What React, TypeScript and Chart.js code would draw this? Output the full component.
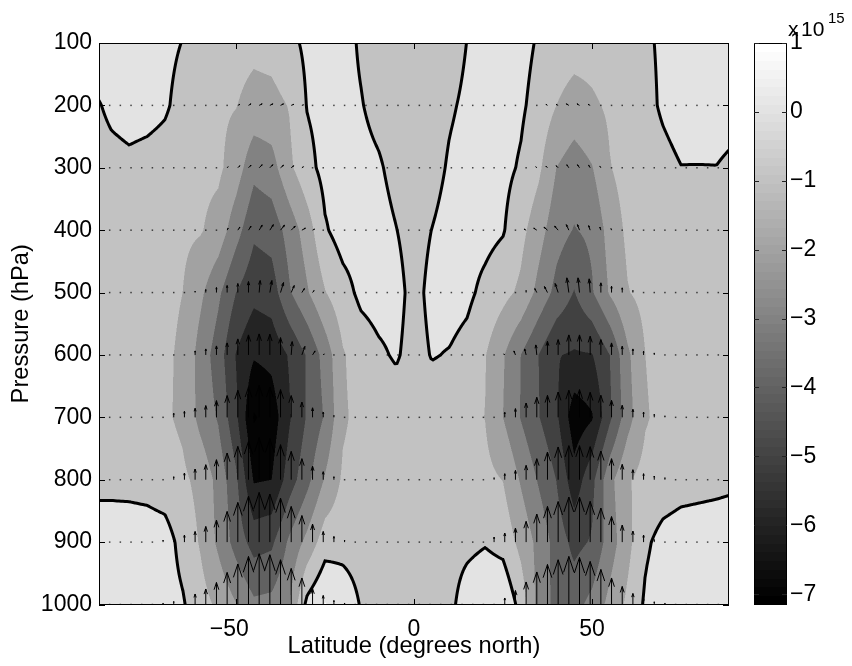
import React, { useEffect, useRef } from 'react';
import { Chart, registerables } from 'chart.js';

Chart.register(...registerables);

// ---------- field grid (units of 1e15) ----------
const LATS = [-88.5, -85, -80, -75, -70, -65, -60, -55, -50, -45, -40, -35, -30, -25, -20, -15, -10, -5, 0, 5, 10, 15, 20, 25, 30, 35, 40, 45, 50, 55, 60, 65, 70, 75, 80, 85, 88.5];
const LEVELS = [100, 200, 300, 400, 500, 600, 700, 800, 900, 1000];

const F100 = [0.6, 0.6, 0.5, 0.4, 0.2, -0.02, -0.3, -0.5, -0.65, -0.75, -0.65, -0.25, 0.2, 0.4, 0.3, -0.1, -0.4, -0.5, -0.55, -0.5, -0.35, 0.02, 0.3, 0.4, 0.3, -0.1, -0.45, -0.6, -0.62, -0.5, -0.35, -0.1, 0.1, 0.3, 0.5, 0.6, 0.6];
const F200 = [-0.05, 0.2, 0.35, 0.3, 0.12, -0.3, -0.6, -0.85, -0.97, -1.35, -1.3, -0.95, 0.05, 0.3, 0.25, 0.05, -0.25, -0.4, -0.45, -0.4, -0.1, 0.15, 0.3, 0.3, 0.15, -0.35, -1.0, -1.4, -1.15, -0.85, -0.55, -0.2, 0.1, 0.3, 0.35, 0.35, 0.3];
const F300 = [-0.4, -0.3, -0.2, -0.3, -0.4, -0.55, -0.75, -0.8, -1.5, -2.7, -2.4, -1.2, -0.3, 0.3, 0.3, 0.25, 0.1, -0.25, -0.4, -0.3, 0.1, 0.3, 0.3, 0.25, -0.1, -0.8, -2.0, -2.5, -2.05, -1.05, -0.6, -0.35, -0.2, -0.015, -0.02, -0.015, -0.12];
const F400 = [-0.5, -0.5, -0.5, -0.55, -0.65, -0.8, -0.92, -1.4, -2.6, -3.8, -3.6, -2.6, -1.5, -0.1, 0.4, 0.4, 0.3, 0.02, -0.35, 0.01, 0.3, 0.35, 0.3, 0.08, -0.7, -1.6, -2.6, -3.05, -2.8, -1.6, -0.8, -0.6, -0.45, -0.4, -0.35, -0.35, -0.35];
const F500 = [-0.5, -0.5, -0.55, -0.65, -0.8, -1.0, -1.8, -2.8, -4.0, -4.7, -4.5, -3.1, -2.1, -1.05, -0.35, 0.2, 0.35, 0.3, -0.3, 0.25, 0.35, 0.2, -0.25, -0.7, -1.2, -2.3, -3.3, -4.05, -3.1, -1.9, -1.05, -0.7, -0.55, -0.5, -0.45, -0.45, -0.45];
const F600 = [-0.55, -0.55, -0.6, -0.7, -0.85, -1.15, -2.4, -3.5, -5.05, -5.9, -5.7, -4.9, -3.9, -2.6, -1.1, -0.5, -0.15, 0.1, -0.35, 0.05, -0.05, -0.3, -0.95, -1.9, -3.0, -4.0, -4.95, -5.1, -5.05, -4.0, -2.2, -1.0, -0.6, -0.5, -0.45, -0.45, -0.45];
const F700 = [-0.6, -0.6, -0.65, -0.75, -0.85, -1.2, -2.3, -3.1, -4.8, -7.1, -6.6, -5.1, -3.9, -2.9, -1.15, -0.7, -0.55, -0.5, -0.5, -0.5, -0.55, -0.7, -1.02, -2.0, -3.05, -3.95, -4.8, -6.6, -6.1, -4.2, -2.4, -1.1, -0.7, -0.55, -0.5, -0.5, -0.5];
const F800 = [-0.3, -0.3, -0.3, -0.35, -0.5, -0.8, -1.3, -2.3, -3.8, -6.1, -6.0, -4.5, -3.3, -1.9, -0.85, -0.6, -0.55, -0.5, -0.5, -0.5, -0.55, -0.6, -0.75, -1.02, -2.1, -3.1, -4.02, -5.6, -4.3, -2.3, -1.1, -0.65, -0.5, -0.35, -0.3, -0.25, -0.2];
const F900 = [0.6, 0.6, 0.55, 0.5, 0.4, -0.3, -1.1, -2.2, -3.4, -4.4, -4.2, -2.8, -1.7, -0.45, -0.35, -0.4, -0.45, -0.5, -0.5, -0.45, -0.35, -0.25, -0.08, -0.35, -1.3, -2.3, -3.4, -4.3, -3.9, -2.5, -1.3, -0.15, 0.3, 0.45, 0.5, 0.55, 0.6];
const F1000 = [0.5, 0.5, 0.5, 0.45, 0.35, 0.1, -0.6, -1.2, -1.95, -2.8, -2.7, -2.05, 0.3, 1.05, 0.6, -0.05, -0.35, -0.5, -0.55, -0.5, -0.25, 0.5, 0.85, 0.9, -0.35, -2.4, -3.3, -3.35, -2.7, -1.7, -0.8, 0.15, 0.5, 0.5, 0.5, 0.5, 0.5];
const FIELD = [F100, F200, F300, F400, F500, F600, F700, F800, F900, F1000];

// ---------- quiver (arrow components) ----------
const Q_LATS = [-88.5, -85.5, -82.5, -79.5, -76.5, -73.5, -70.5, -67.5, -64.5, -61.5, -58.5, -55.5, -52.5, -49.5, -46.5, -43.5, -40.5, -37.5, -34.5, -31.5, -28.5, -25.5, -22.5, -19.5, -16.5, -13.5, -10.5, -7.5, -4.5, -1.5, 1.5, 4.5, 7.5, 10.5, 13.5, 16.5, 19.5, 22.5, 25.5, 28.5, 31.5, 34.5, 37.5, 40.5, 43.5, 46.5, 49.5, 52.5, 55.5, 58.5, 61.5, 64.5, 67.5, 70.5, 73.5, 76.5, 79.5, 82.5, 85.5, 88.5];
const Q_LEVELS = [200, 300, 400, 500, 600, 700, 800, 900, 1000];

const W200 = [0, 0, 0, 0, 0, 0, 0, 0, 0, 0, 0, 0, 0.5, 1, 1.5, 1.5, 1.5, 1.5, 1, 0.5, 0, 0, 0, 0, 0, 0, 0, 0, 0, 0, 0, 0, 0, 0, 0, 0, 0, 0, 0, 0, 0, 0.5, 1, 1, 1.5, 1.5, 1, 0.5, 0, 0, 0, 0, 0, 0, 0, 0, 0, 0, 0, 0];
const U200 = [0, 0, 0, 0, 0, 0, 0, 0, 0, 0, 0, 0, 0, 2, 2.5, 3, 3, 3, 2.5, 1.5, 1, 0, 0, 0, 0, 0, 0, 0, 0, 0, 0, 0, 0, 0, 0, 0, 0, 0, 0, 0, 0, 0, -1.5, -2, -2.5, -2.5, -2, -1, -0.5, 0, 0, 0, 0, 0, 0, 0, 0, 0, 0, 0];
const W300 = [0, 0, 0, 0, 0, 0, 0, 0, 0, 0, 0, 0.5, 1, 2, 2.5, 3, 3, 2.5, 2, 1, 0, 0, 0, 0, 0, 0, 0, 0, 0, 0, 0, 0, 0, 0, 0, 0, 0, 0, 0, 0, 0.5, 1, 1.5, 2, 3, 3, 2.5, 1.5, 0.5, 0, 0, 0, 0, 0, 0, 0, 0, 0, 0, 0];
const U300 = [0, 0, 0, 0, 0, 0, 0, 0, 0, 0, 0, 0, 1, 2, 2.5, 3, 3, 3, 2.5, 1.5, 1, 0, 0, 0, 0, 0, 0, 0, 0, 0, 0, 0, 0, 0, 0, 0, 0, 0, 0, 0, 0, -1, -1.5, -2, -2, -2, -1.5, -1, -0.5, 0, 0, 0, 0, 0, 0, 0, 0, 0, 0, 0];
const W400 = [0, 0, 0, 0, 0, 0, 0, 0, 0, 0, 0.5, 1, 2, 3, 4, 5, 5.5, 5, 4, 2, 1, 0.5, 0, 0, 0, 0, 0, 0, 0, 0, 0, 0, 0, 0, 0, 0, 0, 0, 0, 0, 1, 2, 3, 4, 5.5, 5.5, 4.5, 3, 1.5, 0.5, 0, 0, 0, 0, 0, 0, 0, 0, 0, 0];
const U400 = [0, 0, 0, 0, 0, 0, 0, 0, 0, 0, 0, 0, 1, 2, 2.5, 3, 3.5, 4, 4, 3.5, 2, 1, 0, 0, 0, 0, 0, 0, 0, 0, 0, 0, 0, 0, 0, 0, 0, 0, 0, 0, -2, -3, -3.5, -3.5, -2.5, -2, -1.5, -1, -0.5, 0, 0, 0, 0, 0, 0, 0, 0, 0, 0, 0];
const W500 = [0, 0, 0, 0, 0, 0, 0, 0, 0.5, 1.5, 3, 5, 7, 9, 11, 12, 12, 10, 7, 4, 2, 1, 0, 0, 0, 0, 0, 0, 0, 0, 0, 0, 0, 0, 0, 0, 0, 0, 0.5, 1, 2, 4, 6, 9, 14.7, 14.7, 13.7, 9.7, 6.3, 4.7, 2, 1, 0, 0, 0, 0, 0, 0, 0, 0];
const U500 = [0, 0, 0, 0, 0, 0, 0, 0, 0, 0, 0, 0, 0, 0, 0, 1, 2, 3, 3, 2.5, 1.5, 0.5, 0, 0, 0, 0, 0, 0, 0, 0, 0, 0, 0, 0, 0, 0, 0, 0, 0, 0, 0, -2, -3, -3, -2, -1.5, -1, 0, 0, 0, 0, 0, 0, 0, 0, 0, 0, 0, 0, 0];
const W600 = [0, 0, 0, 0, 0, 0, 0, 0.5, 1, 4, 6, 9, 12, 16, 20, 21, 20.7, 17.3, 13.3, 8.5, 4, 1, 0.5, 0, 0, 0, 0, 0, 0, 0, 0, 0, 0, 0, 0, 0, 0, 0.5, 1, 4, 6, 10, 13.7, 15.3, 20, 20, 18.7, 15.3, 12, 8.7, 6, 3.7, 2, 1, 0.5, 0, 0, 0, 0, 0];
const U600 = [0, 0, 0, 0, 0, 0, 0, 0, 0, 0, 0, 0, 0, 0, 0, 0, 0, 0, 1, 3, 2.5, 1, 0, 0, 0, 0, 0, 0, 0, 0, 0, 0, 0, 0, 0, 0, 0, 0, -1, -1.5, -1.5, -1, 0, 0, 0, 0, 0, 0, 0, 0, 0, 0, 0, 0, 0, 0, 0, 0, 0, 0];
const W700 = [0, 0, 0, 0, 0, 0.5, 1, 4, 6, 9, 11.7, 16.7, 21.7, 27, 30.3, 31.7, 30.3, 27.7, 21.7, 15.2, 9.5, 5.2, 1.8, 1, 0.5, 0, 0, 0, 0, 0, 0, 0, 0, 0, 0, 0, 0.5, 1, 5, 8.7, 14.3, 20, 22, 25.3, 27, 27.7, 25, 22, 17, 12, 8, 5.3, 3, 1.5, 0.5, 0, 0, 0, 0, 0];
const W800 = [0, 0, 0, 0, 0.5, 0.5, 1, 3, 6.7, 10.7, 15, 20, 26.7, 33.3, 38.3, 41.7, 40.7, 35, 28.3, 21, 13.5, 8, 3, 1, 0.5, 0, 0, 0, 0, 0, 0, 0, 0, 0, 0, 0.5, 1, 2, 6, 9.3, 14.3, 21, 27.7, 32.7, 34, 34, 33, 28.7, 21, 15.3, 10, 6, 3.7, 2, 1, 0.5, 0, 0, 0, 0];
const W900 = [0, 0, 0, 0, 0.5, 1, 2, 4, 7, 10.6, 15.6, 22, 30.6, 39.6, 46, 49.6, 48, 44, 35.6, 26.5, 18, 10.6, 5.6, 2, 1, 0.5, 0, 0, 0, 0, 0, 0, 0, 0, 0, 0.5, 1, 5, 9, 14, 20.7, 28, 35.7, 40.5, 45, 45, 40.7, 34, 25.5, 17, 11, 7, 2.5, 1, 0.5, 0, 0, 0, 0, 0];
const W1000 = [0, 0, 0, 0, 0.5, 1, 1.5, 3, 6, 10.5, 15.5, 22, 32, 40.5, 48, 50.7, 49.7, 44.7, 36, 26.5, 16, 9, 4, 1.5, 1, 0.5, 0, 0, 0, 0, 0, 0, 0, 0, 0, 0.5, 0.5, 1, 6.5, 14, 22.5, 32.5, 40, 44.7, 48, 47, 43, 35, 26.5, 18, 11, 6, 2.7, 1.5, 0.5, 0, 0, 0, 0, 0];

const QW = [W200, W300, W400, W500, W600, W700, W800, W900, W1000];
const QU: (number[] | null)[] = [U200, U300, U400, U500, U600, null, null, null, null];

// ---------- axes / colour scale ----------
const X_TICKS = [-50, 0, 50];
const Y_TICKS = [100, 200, 300, 400, 500, 600, 700, 800, 900, 1000];
const CB_TICKS = [1, 0, -1, -2, -3, -4, -5, -6, -7];
const CB_MIN = -7.15;
const CB_MAX = 1;

const DEG_PER_UNIT = 0.281;
const HPA_PER_UNIT = 1.604;
const FONT = 'Liberation Sans, Arial, Helvetica, sans-serif';

const minus = (v: number) => (v < 0 ? '\u2212' + Math.abs(v) : String(v));

function locate(arr: number[], v: number): [number, number] {
  let i = 0;
  while (i < arr.length - 2 && v > arr[i + 1]) i++;
  let t = (v - arr[i]) / (arr[i + 1] - arr[i]);
  t = Math.max(0, Math.min(1, t));
  return [i, t];
}
function interp(i: number, tx: number, j: number, ty: number) {
  const r0 = FIELD[j];
  const r1 = FIELD[j + 1];
  const a = r0[i] + (r0[i + 1] - r0[i]) * tx;
  const b = r1[i] + (r1[i + 1] - r1[i]) * tx;
  return a + (b - a) * ty;
}
function fieldAt(lat: number, p: number) {
  const [i, tx] = locate(LATS, lat);
  const [j, ty] = locate(LEVELS, p);
  return interp(i, tx, j, ty);
}
function bandGray(v: number) {
  const lvl = Math.floor(v);
  let idx = Math.floor(((lvl - CB_MIN) / (CB_MAX - CB_MIN)) * 64);
  idx = Math.max(0, Math.min(63, idx));
  return Math.round((idx / 63) * 255);
}

const fieldPlugin = {
  id: 'fieldPlugin',
  beforeDatasetsDraw(chart: any) {
    const { ctx, chartArea: ca, scales } = chart;
    const xs = scales.x;
    const ys = scales.y;
    const x0 = Math.round(ca.left);
    const x1 = Math.round(ca.right);
    const y0 = Math.round(ca.top);
    const y1 = Math.round(ca.bottom);
    const w = x1 - x0;
    const h = y1 - y0;
    const SS = 2;
    const ci: number[] = [];
    const ct: number[] = [];
    for (let a = 0; a < w * SS; a++) {
      const [i, t] = locate(LATS, xs.getValueForPixel(x0 + (a + 0.5) / SS));
      ci.push(i);
      ct.push(t);
    }
    const rj: number[] = [];
    const rt: number[] = [];
    for (let b = 0; b < h * SS; b++) {
      const [j, t] = locate(LEVELS, ys.getValueForPixel(y0 + (b + 0.5) / SS));
      rj.push(j);
      rt.push(t);
    }
    const img = ctx.createImageData(w, h);
    const d = img.data;
    for (let py = 0; py < h; py++) {
      for (let px = 0; px < w; px++) {
        let sum = 0;
        for (let b = 0; b < SS; b++) {
          const rb = py * SS + b;
          for (let a = 0; a < SS; a++) {
            const ca2 = px * SS + a;
            sum += bandGray(interp(ci[ca2], ct[ca2], rj[rb], rt[rb]));
          }
        }
        const g = Math.round(sum / (SS * SS));
        const k = (py * w + px) * 4;
        d[k] = g;
        d[k + 1] = g;
        d[k + 2] = g;
        d[k + 3] = 255;
      }
    }
    ctx.putImageData(img, x0, y0);

    ctx.save();
    ctx.beginPath();
    ctx.rect(x0, y0, w, h);
    ctx.clip();

    // quiver arrows
    ctx.strokeStyle = '#000';
    ctx.lineWidth = 1;
    for (let li = 0; li < Q_LEVELS.length; li++) {
      const p = Q_LEVELS[li];
      for (let k = 0; k < Q_LATS.length; k++) {
        const lat = Q_LATS[k];
        const wv = QW[li][k];
        const uv = QU[li] ? (QU[li] as number[])[k] : 0;
        const bx = xs.getPixelForValue(lat);
        const by = ys.getPixelForValue(p);
        const tx = xs.getPixelForValue(lat + uv * DEG_PER_UNIT);
        const ty = ys.getPixelForValue(p - wv * HPA_PER_UNIT);
        const dx = tx - bx;
        const dy = ty - by;
        const L = Math.hypot(dx, dy);
        if (L < 1.2) {
          ctx.fillStyle = 'rgba(0,0,0,0.7)';
          ctx.fillRect(bx - 0.75, by - 0.75, 1.5, 1.5);
          continue;
        }
        const al = 0.33;
        const be = 0.33;
        ctx.beginPath();
        ctx.moveTo(bx, by);
        ctx.lineTo(tx, ty);
        ctx.moveTo(tx - al * (dx + be * dy), ty - al * (dy - be * dx));
        ctx.lineTo(tx, ty);
        ctx.lineTo(tx - al * (dx - be * dy), ty - al * (dy + be * dx));
        ctx.stroke();
      }
    }

    // zero contour
    const step = 2;
    const cols = Math.ceil(w / step) + 1;
    const rows = Math.ceil(h / step) + 1;
    const gx = (i: number) => Math.min(x0 + i * step, x1);
    const gy = (j: number) => Math.min(y0 + j * step, y1);
    const G = new Float64Array(cols * rows);
    for (let j = 0; j < rows; j++) {
      const pv = ys.getValueForPixel(gy(j));
      for (let i = 0; i < cols; i++) {
        G[j * cols + i] = fieldAt(xs.getValueForPixel(gx(i)), pv);
      }
    }
    ctx.beginPath();
    const neg = (v: number) => v < 0;
    for (let j = 0; j < rows - 1; j++) {
      for (let i = 0; i < cols - 1; i++) {
        const xa = gx(i), xb = gx(i + 1), ya = gy(j), yb = gy(j + 1);
        const v0 = G[j * cols + i];
        const v1 = G[j * cols + i + 1];
        const v2 = G[(j + 1) * cols + i + 1];
        const v3 = G[(j + 1) * cols + i];
        const top = neg(v0) !== neg(v1) ? [xa + (v0 / (v0 - v1)) * (xb - xa), ya] : null;
        const right = neg(v1) !== neg(v2) ? [xb, ya + (v1 / (v1 - v2)) * (yb - ya)] : null;
        const bottom = neg(v3) !== neg(v2) ? [xa + (v3 / (v3 - v2)) * (xb - xa), yb] : null;
        const left = neg(v0) !== neg(v3) ? [xa, ya + (v0 / (v0 - v3)) * (yb - ya)] : null;
        const pts = [top, right, bottom, left].filter(Boolean) as number[][];
        if (pts.length === 2) {
          ctx.moveTo(pts[0][0], pts[0][1]);
          ctx.lineTo(pts[1][0], pts[1][1]);
        } else if (pts.length === 4) {
          const c = (v0 + v1 + v2 + v3) / 4;
          if (neg(c) === neg(v0)) {
            ctx.moveTo(top![0], top![1]); ctx.lineTo(right![0], right![1]);
            ctx.moveTo(bottom![0], bottom![1]); ctx.lineTo(left![0], left![1]);
          } else {
            ctx.moveTo(top![0], top![1]); ctx.lineTo(left![0], left![1]);
            ctx.moveTo(right![0], right![1]); ctx.lineTo(bottom![0], bottom![1]);
          }
        }
      }
    }
    ctx.lineWidth = 3;
    ctx.lineCap = 'round';
    ctx.lineJoin = 'round';
    ctx.strokeStyle = '#000';
    ctx.stroke();
    ctx.restore();
  },
  afterDraw(chart: any) {
    const { ctx, chartArea: ca, scales } = chart;
    const xs = scales.x;
    const ys = scales.y;
    const cb = scales.cb;
    const x0 = Math.round(ca.left);
    const x1 = Math.round(ca.right);
    const y0 = Math.round(ca.top);
    const y1 = Math.round(ca.bottom);
    ctx.save();
    // axes box
    ctx.strokeStyle = '#000';
    ctx.lineWidth = 1;
    ctx.strokeRect(x0 + 0.5, y0 + 0.5, x1 - x0 - 1, y1 - y0 - 1);
    ctx.beginPath();
    for (const v of X_TICKS) {
      const px = Math.round(xs.getPixelForValue(v)) + 0.5;
      ctx.moveTo(px, y1); ctx.lineTo(px, y1 - 6);
      ctx.moveTo(px, y0); ctx.lineTo(px, y0 + 6);
    }
    for (const v of Y_TICKS) {
      const py = Math.round(ys.getPixelForValue(v)) + 0.5;
      ctx.moveTo(x0, py); ctx.lineTo(x0 + 6, py);
      ctx.moveTo(x1, py); ctx.lineTo(x1 - 6, py);
    }
    ctx.stroke();
    // x tick labels (digits centred on the tick)
    ctx.fillStyle = '#000';
    ctx.font = `23px ${FONT}`;
    ctx.textBaseline = 'alphabetic';
    ctx.textAlign = 'right';
    for (const v of X_TICKS) {
      const px = xs.getPixelForValue(v);
      const dw = ctx.measureText(String(Math.abs(v))).width;
      ctx.fillText(minus(v), px + dw / 2, y1 + 31);
    }
    // colour bar
    const bl = cb.left + 25;
    const br = cb.left + 58;
    for (let i = 0; i < 64; i++) {
      const vlo = CB_MIN + ((CB_MAX - CB_MIN) * i) / 64;
      const vhi = CB_MIN + ((CB_MAX - CB_MIN) * (i + 1)) / 64;
      const ya = cb.getPixelForValue(vhi);
      const yb = cb.getPixelForValue(vlo);
      const g = Math.round((i / 63) * 255);
      ctx.fillStyle = `rgb(${g},${g},${g})`;
      ctx.fillRect(bl, Math.floor(ya), br - bl, Math.ceil(yb) - Math.floor(ya));
    }
    ctx.strokeStyle = '#000';
    ctx.strokeRect(Math.round(bl) + 0.5, y0 + 0.5, Math.round(br - bl) - 1, y1 - y0 - 1);
    ctx.beginPath();
    for (const v of CB_TICKS) {
      const py = Math.round(cb.getPixelForValue(v)) + 0.5;
      ctx.moveTo(bl, py); ctx.lineTo(bl + 5, py);
      ctx.moveTo(br, py); ctx.lineTo(br - 5, py);
    }
    ctx.strokeStyle = '#222';
    ctx.stroke();
    // colour bar labels
    ctx.fillStyle = '#000';
    ctx.font = `23px ${FONT}`;
    ctx.textAlign = 'left';
    ctx.textBaseline = 'middle';
    for (const v of CB_TICKS) {
      ctx.fillText(minus(v), cb.left + 61, cb.getPixelForValue(v));
    }
    // exponent label
    ctx.textBaseline = 'alphabetic';
    ctx.font = `21px ${FONT}`;
    ctx.fillText('x', cb.left + 59, 36);
    ctx.fillText('10', cb.left + 72, 36);
    ctx.font = `15px ${FONT}`;
    ctx.fillText('15', cb.left + 99, 23);
    ctx.restore();
  },
};

export default function App() {
  const ref = useRef<HTMLCanvasElement>(null);
  useEffect(() => {
    const canvas = ref.current;
    if (!canvas) return;
    const tickFont = { family: FONT, size: 23 };
    const titleFont = { family: FONT, size: 23.7 };
    const chart = new Chart(canvas, {
      type: 'scatter',
      data: { datasets: [] },
      options: {
        responsive: false,
        animation: false,
        events: [],
        layout: { padding: { top: 43, left: 0, right: 0, bottom: 0 } },
        plugins: { legend: { display: false }, tooltip: { enabled: false } },
        scales: {
          x: {
            type: 'linear',
            position: 'bottom',
            min: -88.5,
            max: 88.5,
            grid: { display: false, drawTicks: false },
            border: { display: false },
            ticks: { display: false },
            title: {
              display: true,
              text: 'Latitude (degrees north)',
              font: titleFont,
              color: '#000',
              padding: { top: 0, bottom: 5 },
            },
            afterFit: (s: any) => {
              s.height = 61.5;
            },
          },
          y: {
            type: 'linear',
            position: 'left',
            reverse: true,
            min: 100,
            max: 1000,
            afterBuildTicks: (s: any) => {
              s.ticks = Y_TICKS.map((v) => ({ value: v }));
            },
            ticks: { font: tickFont, color: '#000', padding: 7, callback: (v: any) => String(v) },
            grid: { display: false, drawTicks: false },
            border: { display: false },
            title: {
              display: true,
              text: 'Pressure (hPa)',
              font: titleFont,
              color: '#000',
              padding: { top: 7, bottom: 0 },
            },
            afterFit: (s: any) => {
              s.width = 99;
            },
          },
          cb: {
            type: 'linear',
            position: 'right',
            axis: 'y',
            min: CB_MIN,
            max: CB_MAX,
            ticks: { display: false },
            grid: { display: false, drawTicks: false },
            border: { display: false },
            afterFit: (s: any) => {
              s.width = 123;
            },
          },
        },
      } as any,
      plugins: [fieldPlugin],
    });
    return () => chart.destroy();
  }, []);
  return (
    <div style={{ position: 'fixed', left: 0, top: 0, width: 852, height: 666, background: '#fff' }}>
      <canvas ref={ref} width={852} height={666} style={{ display: 'block' }} />
    </div>
  );
}
